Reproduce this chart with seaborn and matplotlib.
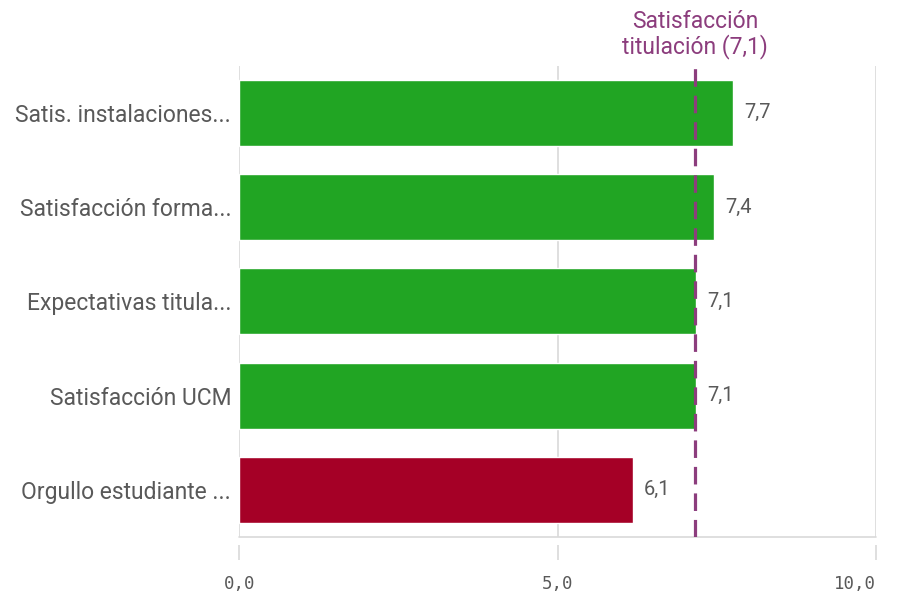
import matplotlib
matplotlib.use("Agg")
import matplotlib.pyplot as plt
import matplotlib.transforms as mtransforms
import seaborn as sns
import pandas as pd

# --- data ---
categories = [
    "Satis. instalaciones...",
    "Satisfacción forma...",
    "Expectativas titula...",
    "Satisfacción UCM",
    "Orgullo estudiante ...",
]
scores = [7.75, 7.46, 7.17, 7.17, 6.18]
score_labels = ["7,7", "7,4", "7,1", "7,1", "6,1"]
bar_colors = ["#21a523", "#21a523", "#21a523", "#21a523", "#a50026"]

ref_value = 7.16
ref_label = "Satisfacción\ntitulación (7,1)"

x_ticks = [0, 5, 10]
x_tick_labels = ["0,0", "5,0", "10,0"]

# --- style ---
sns.set_style("white")
plt.rcParams["font.family"] = ["Roboto", "DejaVu Sans"]
text_grey = "#595959"
grid_grey = "#d9d9d9"
ref_color = "#8c3d7d"

df = pd.DataFrame({"category": categories, "score": scores})

fig = plt.figure(figsize=(8.97, 5.99), dpi=100)
ax = fig.add_axes([0.267, 0.1035, 0.7095, 0.787])

sns.barplot(data=df, x="score", y="category", hue="category",
            palette=bar_colors, width=0.7, saturation=1, legend=False, ax=ax)

ax.set_xlim(0, 10)
ax.set_ylim(len(categories) - 0.5, -0.5)
ax.set_xlabel("")
ax.set_ylabel("")

# grid + frame
ax.set_xticks(x_ticks)
ax.set_xticklabels(x_tick_labels)
ax.grid(axis="x", color=grid_grey, linewidth=1.2)
ax.set_axisbelow(True)
for side in ["top", "right", "left"]:
    ax.spines[side].set_visible(False)
ax.spines["bottom"].set_position(("outward", 6))
ax.spines["bottom"].set_visible(False)
ax.plot([0, 1], [0, 0], transform=ax.transAxes, color=grid_grey, lw=1.2, clip_on=False, zorder=0)
ax.tick_params(axis="x", bottom=True, direction="out", length=11, width=1.2, color=grid_grey,
               pad=10, labelsize=12.5, labelcolor=text_grey)
for lab in ax.get_xticklabels():
    lab.set_family("DejaVu Sans Mono")
# last label kept inside the plot edge, like the original
ax.get_xticklabels()[-1].set_horizontalalignment("right")
ax.tick_params(axis="y", left=False, length=0, pad=6, labelsize=16.5, labelcolor=text_grey)

# value labels
for cont, lab in zip(ax.containers, score_labels):
    ax.bar_label(cont, labels=[lab], padding=8, fontsize=14.5, color=text_grey)

# reference line
ax.axvline(ref_value, color=ref_color, lw=2.3, ls=(0, (5.5, 2.8)), zorder=3)
trans = mtransforms.blended_transform_factory(ax.transData, ax.transAxes)
ax.text(ref_value, 1.015, ref_label, transform=trans, ha="center", va="bottom",
        fontsize=16.5, color=ref_color, linespacing=1.05)

fig.savefig("out.png", dpi=100)
